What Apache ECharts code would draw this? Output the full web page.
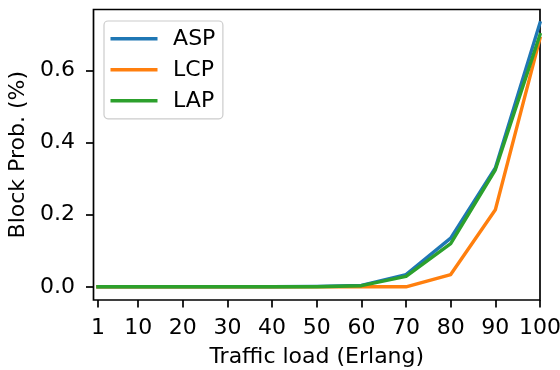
<!DOCTYPE html>
<html>
<head>
<meta charset="utf-8">
<script src="https://cdn.jsdelivr.net/npm/echarts@6/dist/echarts.min.js"></script>
<style>
  html, body { margin: 0; padding: 0; background: #fff; }
  #chart { width: 560px; height: 370px; }
</style>
</head>
<body>
<div id="chart"></div>
<script>
// Traffic load values (Erlang) and blocking probability per routing scheme
const loads = [1, 10, 20, 30, 40, 50, 60, 70, 80, 90, 100];
const asp = [0, 0, 0, 0, 0, 0.001, 0.004, 0.034, 0.135, 0.330, 0.733];
const lcp = [0, 0, 0, 0, 0, 0, 0, 0, 0.034, 0.214, 0.690];
const lap = [0, 0, 0, 0, 0, 0, 0.003, 0.029, 0.120, 0.325, 0.700];

const xTicks = [1, 10, 20, 30, 40, 50, 60, 70, 80, 90, 100];
const yTicks = [0, 0.2, 0.4, 0.6];

const FONT = 'DejaVu Sans';
const FS = 22;
const pair = (ys) => loads.map((x, i) => [x, ys[i]]);

const chart = echarts.init(document.getElementById('chart'), null, { renderer: 'canvas' });

const lineSeries = (name, color, ys) => ({
  name,
  type: 'line',
  data: pair(ys),
  showSymbol: false,
  symbol: 'none',
  animation: false,
  lineStyle: { color, width: 3.4, join: 'round', cap: 'square' },
  itemStyle: { color }
});

const tickStyle = { color: '#000', width: 1.7 };

chart.setOption({
  animation: false,
  textStyle: { fontFamily: FONT },
  grid: {
    left: 93.5, right: 20, top: 9.5, bottom: 70,
    outerBoundsMode: 'none',
    containLabel: false,
    show: true, borderColor: '#000', borderWidth: 1.7, backgroundColor: 'transparent'
  },
  legend: {
    orient: 'vertical',
    left: 104, top: 21,
    padding: [6.8, 7.5, 7, 6.5],
    itemWidth: 47, itemHeight: 3.4, itemGap: 9,
    icon: 'rect',
    backgroundColor: 'rgba(255,255,255,0.8)',
    borderColor: '#cccccc', borderWidth: 1.2, borderRadius: 4,
    textStyle: { fontFamily: FONT, fontSize: FS, color: '#000', padding: [0, 0, 0, 10.6], lineHeight: 22 },
    data: ['ASP', 'LCP', 'LAP']
  },
  xAxis: {
    type: 'value',
    min: 0, max: 100,
    name: 'Traffic load (Erlang)',
    nameLocation: 'middle', nameGap: 46,
    nameTextStyle: { fontFamily: FONT, fontSize: FS, color: '#000' },
    axisLine: { show: false, onZero: false },
    axisTick: { show: true, length: 7.5, customValues: xTicks, lineStyle: tickStyle },
    axisLabel: { customValues: xTicks, fontFamily: FONT, fontSize: FS, color: '#000', margin: 17 },
    splitLine: { show: false }
  },
  yAxis: {
    type: 'value',
    min: -0.0367, max: 0.7700,
    name: 'Block Prob. (%)',
    nameLocation: 'middle', nameGap: 63.5, nameRotate: 90,
    nameTextStyle: { fontFamily: FONT, fontSize: FS, color: '#000' },
    axisLine: { show: false, onZero: false },
    axisTick: { show: true, length: 7.5, customValues: yTicks, lineStyle: tickStyle },
    axisLabel: {
      customValues: yTicks, fontFamily: FONT, fontSize: FS, color: '#000', margin: 18.5,
      formatter: (v) => v.toFixed(1)
    },
    splitLine: { show: false }
  },
  series: [
    lineSeries('ASP', '#1f77b4', asp),
    lineSeries('LCP', '#ff7f0e', lcp),
    lineSeries('LAP', '#2ca02c', lap)
  ]
});
</script>
</body>
</html>
